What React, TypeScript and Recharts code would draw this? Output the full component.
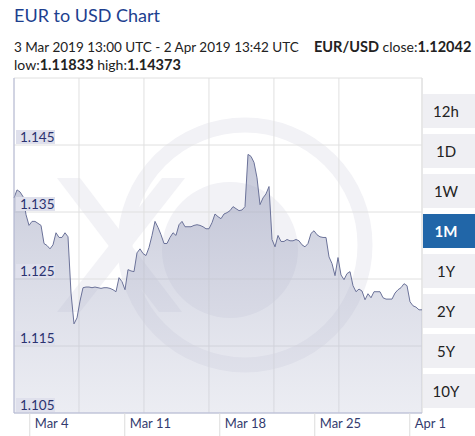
// EUR/USD one-month chart: area + line on a trading-day axis
import { ComposedChart, Area, XAxis, YAxis, CartesianGrid } from 'recharts';

// EUR/USD rate, sampled evenly over trading time (weekends collapsed)
const eurUsd = [
  1.1371, 1.1383, 1.138, 1.1373, 1.1346, 1.133, 1.1336, 1.1336, 1.1333, 1.133,
  1.1303, 1.13, 1.1295, 1.1301, 1.1319, 1.1312, 1.1312, 1.1319, 1.1313, 1.1229,
  1.1183, 1.1192, 1.1217, 1.1237, 1.1238, 1.1238, 1.1237, 1.1238, 1.1237, 1.1236,
  1.1237, 1.1237, 1.1236, 1.1234, 1.1231, 1.1252, 1.1246, 1.1234, 1.1264, 1.1262,
  1.1261, 1.1289, 1.1295, 1.1288, 1.1285, 1.1297, 1.1315, 1.1336, 1.1327, 1.1316,
  1.1303, 1.1303, 1.1312, 1.1319, 1.1315, 1.1331, 1.1336, 1.1328, 1.1328, 1.1328,
  1.133, 1.1331, 1.133, 1.1328, 1.1325, 1.1325, 1.1334, 1.1347, 1.1343, 1.134,
  1.1347, 1.1349, 1.1352, 1.1358, 1.1355, 1.1352, 1.1353, 1.1358, 1.1436, 1.1433,
  1.1424, 1.1401, 1.1361, 1.1371, 1.1377, 1.1388, 1.1309, 1.1298, 1.1315, 1.1306,
  1.1306, 1.1309, 1.1307, 1.1307, 1.1309, 1.1307, 1.1301, 1.1298, 1.1303, 1.1318,
  1.1322, 1.1316, 1.1313, 1.1312, 1.1312, 1.1283, 1.1273, 1.1255, 1.1282, 1.1256,
  1.1249, 1.1258, 1.1261, 1.124, 1.1231, 1.1235, 1.1232, 1.1219, 1.1228, 1.1222,
  1.1231, 1.1231, 1.1231, 1.1222, 1.122, 1.122, 1.122, 1.1229, 1.1234, 1.1237,
  1.1243, 1.124, 1.1216, 1.121, 1.1208, 1.1204, 1.1204,
];

const sampleStep = 3 / 19; // trading days between samples
const xTickLabels = ['Mar 4', 'Mar 11', 'Mar 18', 'Mar 25', 'Apr 1'];
const xTickDays = [0.83, 5.83, 10.83, 15.83, 20.83];
const gridDays = [3.42, 6.84, 10.26, 13.68, 17.1, 20.53, 21.474];
const yTicks = [1.105, 1.115, 1.125, 1.135, 1.145, 1.155];
const ranges = ['12h', '1D', '1W', '1M', '1Y', '2Y', '5Y', '10Y'];
const activeRange = '1M';

const data = eurUsd.map((rate, i) => ({ day: i * sampleStep, rate }));
const lastDay = (eurUsd.length - 1) * sampleStep;

const FONT = 'Lato, "Open Sans", sans-serif';
const bold = { fontWeight: 700, fontSize: 14.5 };

function RateTick(props: any) {
  const { y, payload } = props;
  if (payload.value >= 1.155) return <g />;
  return (
    <g>
      <rect x={16} y={y - 15} width={39} height={14} fill="#dfe0ec" />
      <text x={20} y={y - 3.5} fontSize={13.5} fill="#2b3270" fontFamily={FONT}>
        {Number(payload.value).toFixed(3)}
      </text>
    </g>
  );
}

function DateTick(props: any) {
  const { x, y, index } = props;
  return (
    <g>
      <line x1={x} y1={y} x2={x} y2={y + 23} stroke="#dcdcdc" />
      <text x={x + 5} y={y + 15} fontSize={13} fill="#333b6e" fontFamily={FONT}>
        {xTickLabels[index]}
      </text>
    </g>
  );
}

function Watermark() {
  return (
    <svg width={475} height={436} style={{ position: 'absolute', left: 0, top: 0 }}>
      <g fill="#f2f2f6">
        <polygon points="57,178 80,178 182,312 159,312" />
        <polygon points="162,178 185,178 80,312 57,312" />
        <circle cx={230} cy={250} r={68} />
      </g>
      <circle cx={245} cy={245} r={120} fill="none" stroke="#f2f2f6" strokeWidth={15} />
    </svg>
  );
}

export default function App() {
  return (
    <div style={{ position: 'absolute', left: 0, top: 0, width: 475, height: 436, background: '#fff', fontFamily: FONT, overflow: 'hidden' }}>
      <div style={{ position: 'absolute', left: 14, top: 2, fontSize: 18, color: '#1d3f8f', lineHeight: '26px' }}>
        EUR to USD Chart
      </div>
      <div style={{ position: 'absolute', left: 14, top: 38, fontSize: 13.5, color: '#222', lineHeight: '18px', whiteSpace: 'nowrap' }}>
        3 Mar 2019 13:00 UTC - 2 Apr 2019 13:42 UTC
      </div>
      <div style={{ position: 'absolute', left: 314, top: 38, fontSize: 14, color: '#222', lineHeight: '18px', whiteSpace: 'nowrap' }}>
        <span style={bold}>EUR/USD</span> close:<span style={bold}>1.12042</span>
      </div>
      <div style={{ position: 'absolute', left: 14, top: 56, fontSize: 14, color: '#222', lineHeight: '18px', whiteSpace: 'nowrap' }}>
        low:<span style={bold}>1.11833</span> high:<span style={bold}>1.14373</span>
      </div>

      <Watermark />

      <div style={{ position: 'absolute', left: 0, top: 0 }}>
        <ComposedChart width={475} height={436} data={data} margin={{ top: 78, right: 53, bottom: 0, left: 0 }}>
          <defs>
            <linearGradient id="rateFill" x1="0" y1="0" x2="0" y2="1">
              <stop offset="0%" stopColor="#8f95b5" stopOpacity={0.52} />
              <stop offset="100%" stopColor="#c8cbdc" stopOpacity={0.35} />
            </linearGradient>
          </defs>
          <XAxis xAxisId="grid" dataKey="day" type="number" domain={[0, lastDay]} ticks={gridDays} hide />
          <CartesianGrid xAxisId="grid" stroke="#e0e0e0" />
          <Area
            type="linear"
            dataKey="rate"
            stroke="#6b7299"
            strokeWidth={1}
            fill="url(#rateFill)"
            fillOpacity={1}
            isAnimationActive={false}
            dot={false}
            activeDot={false}
          />
          <XAxis
            dataKey="day"
            type="number"
            domain={[0, lastDay]}
            ticks={xTickDays}
            tick={<DateTick />}
            tickLine={false}
            tickSize={0}
            tickMargin={0}
            height={23}
            stroke="#b4b9d6"
            interval={0}
          />
          <YAxis
            type="number"
            domain={[1.105, 1.155]}
            ticks={yTicks}
            tick={<RateTick />}
            tickLine={false}
            width={14}
            stroke="#b4b9d6"
            interval={0}
          />
        </ComposedChart>
      </div>

      {ranges.map((r, i) => {
        const active = r === activeRange;
        return (
          <div
            key={r}
            style={{
              position: 'absolute',
              left: 423,
              top: 94 + i * 40,
              width: 46,
              paddingRight: 6,
              height: 34,
              lineHeight: '34px',
              textAlign: 'center',
              fontSize: 15,
              background: active ? '#2166a8' : '#efeff3',
              color: active ? '#fff' : '#222',
              fontWeight: active ? 700 : 400,
            }}
          >
            {r}
          </div>
        );
      })}
    </div>
  );
}
